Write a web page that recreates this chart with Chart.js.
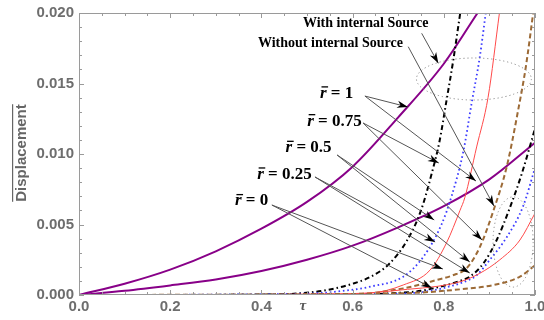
<!DOCTYPE html>
<html>
<head>
<meta charset="utf-8">
<script src="https://cdn.jsdelivr.net/npm/chart.js@4/dist/chart.umd.min.js"></script>
<style>
  html, body { margin: 0; padding: 0; background: #fff; }
</style>
</head>
<body>
<canvas id="chart" width="544" height="320"></canvas>
<script>
// tick labels
const xTicks = [0, 0.2, 0.4, 0.6, 0.8, 1.0]
const yTicks = [0, 0.005, 0.010, 0.015, 0.020]

// with internal source
const purpleWithX = [0, 0.1, 0.2, 0.3, 0.4, 0.5, 0.6, 0.7, 0.8, 0.874]
const purpleWithY = [0, 0.0008, 0.0018, 0.0031, 0.0047, 0.0066, 0.0091, 0.0126, 0.0164, 0.0200]
const blackWithX  = [0, 0.4, 0.485, 0.543, 0.6, 0.64, 0.68, 0.72, 0.75, 0.775, 0.79, 0.806, 0.821, 0.836]
const blackWithY  = [0, 0.00002, 0.00012, 0.00035, 0.0008, 0.0013, 0.0022, 0.0039, 0.0060, 0.0088, 0.0108, 0.0138, 0.0167, 0.0200]
const blueWithX   = [0, 0.5, 0.594, 0.64, 0.711, 0.755, 0.795, 0.817, 0.843, 0.861, 0.879, 0.892]
const blueWithY   = [0, 0.0001, 0.00035, 0.0006, 0.0013, 0.0027, 0.0050, 0.0070, 0.0102, 0.0136, 0.0169, 0.0200]
const redWithX    = [0, 0.55, 0.638, 0.711, 0.77, 0.806, 0.8355, 0.846, 0.872, 0.897, 0.922]
const redWithY    = [0, 0.00003, 0.00012, 0.00071, 0.00177, 0.0037, 0.0060, 0.0069, 0.0105, 0.0140, 0.0200]
const brownWithX  = [0, 0.6, 0.711, 0.784, 0.82, 0.85, 0.879, 0.909, 0.938, 0.963, 0.98, 0.996]
const brownWithY  = [0, 0.00005, 0.00047, 0.00106, 0.0014, 0.0019, 0.0034, 0.0060, 0.0091, 0.0131, 0.0162, 0.0200]

// without internal source
const purpleWithoutX = [0, 0.1, 0.2, 0.3, 0.4, 0.5, 0.6, 0.7, 0.8, 0.9, 1.0]
const purpleWithoutY = [0, 0.0003, 0.00068, 0.0011, 0.0017, 0.0025, 0.0035, 0.0048, 0.0063, 0.0082, 0.0108]
const blackWithoutX  = [0, 0.6, 0.7, 0.75, 0.8, 0.836, 0.857, 0.887, 0.916, 0.945, 0.971, 1.0]
const blackWithoutY  = [0, 0.00003, 0.00015, 0.0003, 0.00065, 0.0010, 0.0013, 0.00225, 0.0039, 0.0062, 0.0086, 0.0118]
const blueWithoutX   = [0, 0.65, 0.75, 0.8, 0.857, 0.872, 0.901, 0.938, 0.974, 1.0]
const blueWithoutY   = [0, 0.00005, 0.0002, 0.0005, 0.0011, 0.0014, 0.0025, 0.0041, 0.0063, 0.0090]
const redWithoutX    = [0, 0.6, 0.704, 0.8355, 0.879, 0.923, 0.967, 1.0]
const redWithoutY    = [0, 0.0001, 0.00035, 0.00094, 0.00154, 0.0025, 0.0039, 0.0058]
const brownWithoutX  = [0, 0.704, 0.8355, 0.909, 0.967, 1.0]
const brownWithoutY  = [0, 0.00012, 0.0004, 0.00071, 0.0013, 0.0021]

// annotations (data units)
const rLabels = ['1', '0.75', '0.5', '0.25', '0']
const rLabelPos = [[0.6015, 0.01438], [0.620, 0.01241], [0.554, 0.01052], [0.5103, 0.00863], [0.415, 0.00674]]
const rArrowFrom = [[0.627, 0.01411], [0.623, 0.0122], [0.566, 0.00993], [0.5175, 0.00837], [0.423, 0.00638]]
const rArrowTo = [
  [[0.7215, 0.01333], [0.8706, 0.00808]],
  [[0.789, 0.00936], [0.884, 0.0039]],
  [[0.779, 0.00532], [0.857, 0.00234]],
  [[0.781, 0.00376], [0.857, 0.00156]],
  [[0.798, 0.00184], [0.774, 0.0005]]
]
const sourceLabels = ['With internal Source', 'Without internal Source']
const sourceLabelPos = [[0.4912, 0.01901], [0.3925, 0.01762]]
const sourceArrows = [[0.7515, 0.01856, 0.788, 0.01643], [0.722, 0.01761, 0.910, 0.00631]]
const ellipses = [[0.866, 0.01532, 0.126, 0.00149], [0.952, 0.00376, 0.044, 0.0032]]

const pts = (xs, ys) => xs.map((x, i) => ({ x, y: ys[i] }))

function line(xs, ys, color, width, dash) {
  return {
    data: pts(xs, ys),
    borderColor: color,
    borderWidth: width,
    borderDash: dash || [],
    pointRadius: 0,
    cubicInterpolationMode: 'monotone',
    fill: false
  }
}

const PURPLE = '#880088', BLUE = '#3b3bff', RED = '#ff4a4a', BROWN = '#9c6a36'
const DASHDOT = [5, 3, 1.5, 3], DOT = [1.6, 2.8], DASH = [5, 3]

function drawArrow(ctx, x1, y1, x2, y2) {
  ctx.strokeStyle = '#555'
  ctx.lineWidth = 1
  ctx.beginPath(); ctx.moveTo(x1, y1); ctx.lineTo(x2, y2); ctx.stroke()
  const a = Math.atan2(y2 - y1, x2 - x1), L = 11, W = 3.6
  ctx.fillStyle = '#000'
  ctx.beginPath()
  ctx.moveTo(x2, y2)
  ctx.lineTo(x2 - L * Math.cos(a) + W * Math.sin(a), y2 - L * Math.sin(a) - W * Math.cos(a))
  ctx.lineTo(x2 - 0.7 * L * Math.cos(a), y2 - 0.7 * L * Math.sin(a))
  ctx.lineTo(x2 - L * Math.cos(a) - W * Math.sin(a), y2 - L * Math.sin(a) + W * Math.cos(a))
  ctx.closePath(); ctx.fill()
}

const decor = {
  id: 'decor',
  afterDraw(chart) {
    const { ctx, chartArea: a, scales: { x, y } } = chart
    const px = v => x.getPixelForValue(v), py = v => y.getPixelForValue(v)
    ctx.save()

    // frame + inward ticks
    ctx.strokeStyle = '#9a9a9a'
    ctx.lineWidth = 1
    ctx.strokeRect(a.left + 0.5, a.top + 0.5, a.right - a.left - 1, a.bottom - a.top - 1)
    ctx.beginPath()
    for (let i = 0; i <= 20; i++) {
      const xx = Math.round(px(i * 0.05)) + 0.5, len = i % 4 === 0 ? 5 : 3
      ctx.moveTo(xx, a.bottom); ctx.lineTo(xx, a.bottom - len)
      ctx.moveTo(xx, a.top); ctx.lineTo(xx, a.top + len)
      const yy = Math.round(py(i * 0.001)) + 0.5, ly = i % 5 === 0 ? 5 : 3
      ctx.moveTo(a.left, yy); ctx.lineTo(a.left + ly, yy)
      ctx.moveTo(a.right, yy); ctx.lineTo(a.right - ly, yy)
    }
    ctx.stroke()

    // tick labels
    ctx.fillStyle = '#6e6e6e'
    ctx.font = 'bold 15px "Liberation Sans"'
    ctx.textAlign = 'center'; ctx.textBaseline = 'middle'
    xTicks.forEach(v => ctx.fillText(v.toFixed(1), px(v), a.bottom + 12))
    ctx.textAlign = 'right'
    yTicks.forEach(v => ctx.fillText(v.toFixed(3), a.left - 5, py(v)))

    // axis titles
    ctx.fillStyle = '#5a5a5a'
    ctx.font = 'italic bold 15px "Liberation Serif"'
    ctx.textAlign = 'center'
    ctx.fillText('τ', px(0.491), a.bottom + 11)
    ctx.save()
    ctx.translate(21.5, 153)
    ctx.rotate(-Math.PI / 2)
    ctx.font = 'bold 15px "Liberation Sans"'
    ctx.fillStyle = '#666'
    ctx.fillText('Displacement', 0, 0)
    const w = ctx.measureText('Displacement').width
    ctx.fillRect(-w / 2, -9.5, w, 1.2)
    ctx.restore()

    // dotted ellipses
    ctx.strokeStyle = '#8a8a8a'
    ctx.setLineDash([1.2, 2.8])
    ellipses.forEach(([cx, cy, rx, ry]) => {
      ctx.beginPath()
      ctx.ellipse(px(cx), py(cy), Math.abs(px(cx + rx) - px(cx)), Math.abs(py(cy + ry) - py(cy)), 0, 0, Math.PI * 2)
      ctx.stroke()
    })
    ctx.setLineDash([])

    // arrows
    sourceArrows.forEach(([x1, y1, x2, y2]) => drawArrow(ctx, px(x1), py(y1), px(x2), py(y2)))
    rArrowFrom.forEach(([fx, fy], i) => {
      rArrowTo[i].forEach(([tx, ty]) => drawArrow(ctx, px(fx), py(fy), px(tx), py(ty)))
    })

    // labels
    ctx.fillStyle = '#000'
    ctx.textAlign = 'left'; ctx.textBaseline = 'alphabetic'
    ctx.font = 'bold 14px "Liberation Serif"'
    sourceLabels.forEach((t, i) => ctx.fillText(t, px(sourceLabelPos[i][0]), py(sourceLabelPos[i][1])))

    rLabels.forEach((t, i) => {
      const xr = px(rLabelPos[i][0]), base = py(rLabelPos[i][1]) + 5.5
      const rest = ' = ' + t
      ctx.font = 'bold 17px "Liberation Serif"'
      const wRest = ctx.measureText(rest).width
      ctx.font = 'italic bold 17px "Liberation Serif"'
      const wR = ctx.measureText('r').width
      const x0 = xr - wRest - wR
      ctx.fillText('r', x0, base)
      ctx.fillRect(x0 + 1.5, base - 11.5, wR, 1.3)
      ctx.font = 'bold 17px "Liberation Serif"'
      ctx.fillText(rest, x0 + wR, base)
    })
    ctx.restore()
  }
}

new Chart(document.getElementById('chart'), {
  type: 'line',
  data: {
    datasets: [
      line(brownWithoutX, brownWithoutY, BROWN, 2, DASH),
      line(redWithoutX, redWithoutY, RED, 1),
      line(blueWithoutX, blueWithoutY, BLUE, 1.8, DOT),
      line(blackWithoutX, blackWithoutY, '#000', 2, DASHDOT),
      line(brownWithX, brownWithY, BROWN, 2, DASH),
      line(redWithX, redWithY, RED, 1),
      line(blueWithX, blueWithY, BLUE, 1.8, DOT),
      line(blackWithX, blackWithY, '#000', 2, DASHDOT),
      line(purpleWithoutX, purpleWithoutY, PURPLE, 2),
      line(purpleWithX, purpleWithY, PURPLE, 2)
    ]
  },
  options: {
    responsive: false,
    animation: false,
    layout: { padding: { left: 0, top: 13, right: 9, bottom: 0 } },
    plugins: { legend: { display: false }, tooltip: { enabled: false } },
    scales: {
      x: {
        type: 'linear', min: 0, max: 1,
        ticks: { display: false }, grid: { display: false }, border: { display: false },
        afterFit: s => { s.height = 25 }
      },
      y: {
        type: 'linear', min: 0, max: 0.02,
        ticks: { display: false }, grid: { display: false }, border: { display: false },
        afterFit: s => { s.width = 79 }
      }
    }
  },
  plugins: [decor]
})
</script>
</body>
</html>
